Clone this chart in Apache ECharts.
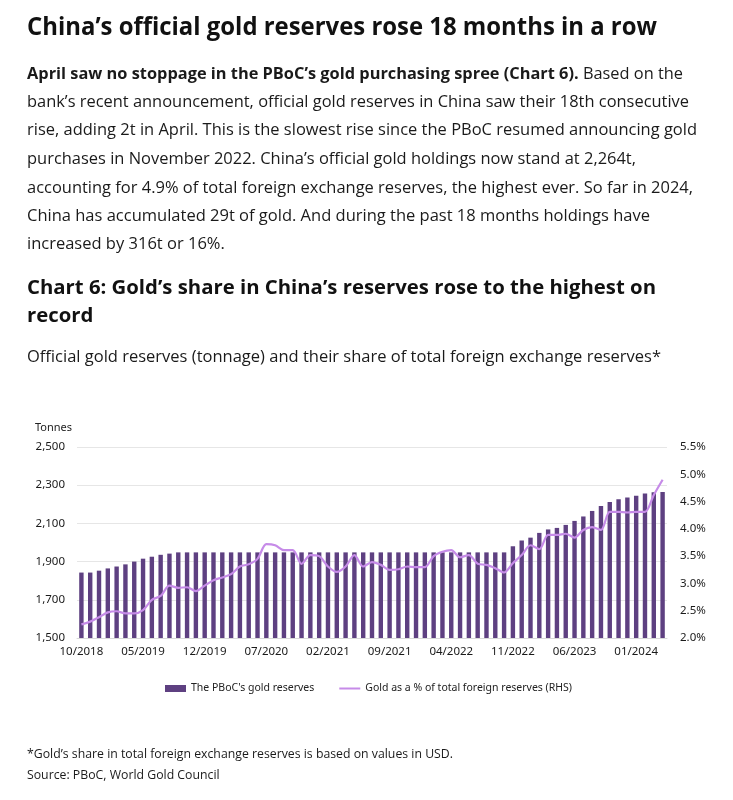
<!DOCTYPE html>
<html>
<head>
<meta charset="utf-8">
<script src="https://cdn.jsdelivr.net/npm/echarts@6/dist/echarts.min.js"></script>
<style>
  html, body { margin:0; padding:0; background:#fff; }
  #page { position:relative; width:733px; height:800px; overflow:hidden; }
  #chart { position:absolute; left:0; top:0; width:733px; height:800px; }
  .ln { position:absolute; left:27px; white-space:nowrap; font-family:"Open Sans", "Noto Sans", sans-serif; color:#1a1a1a; transform-origin:0 50%; line-height:normal; }
  .h1 { font-size:25px; font-weight:700; color:#111; }
  .p { font-size:16.5px; }
  .h2 { font-size:20px; font-weight:700; color:#111; }
  .sub { font-size:16px; }
  .ft { font-size:12.5px; }
</style>
</head>
<body>
<div id="page">
  <div id="chart"></div>
  <div class="ln h1" style="top:8px" data-w="630">China’s official gold reserves rose 18 months in a row</div>
  <div class="ln p" style="top:61px" data-w="656"><b>April saw no stoppage in the PBoC’s gold purchasing spree (Chart 6).</b> Based on the</div>
  <div class="ln p" style="top:89px" data-w="662">bank’s recent announcement, official gold reserves in China saw their 18th consecutive</div>
  <div class="ln p" style="top:117px" data-w="670">rise, adding 2t in April. This is the slowest rise since the PBoC resumed announcing gold</div>
  <div class="ln p" style="top:146px" data-w="609">purchases in November 2022. China’s official gold holdings now stand at 2,264t,</div>
  <div class="ln p" style="top:175px" data-w="666">accounting for 4.9% of total foreign exchange reserves, the highest ever. So far in 2024,</div>
  <div class="ln p" style="top:203px" data-w="623">China has accumulated 29t of gold. And during the past 18 months holdings have</div>
  <div class="ln p" style="top:231px" data-same="1">increased by 316t or 16%.</div>
  <div class="ln h2" style="top:273px" data-w="629">Chart 6: Gold’s share in China’s reserves rose to the highest on</div>
  <div class="ln h2" style="top:301px" data-same="1">record</div>
  <div class="ln sub" style="top:345px" data-w="634">Official gold reserves (tonnage) and their share of total foreign exchange reserves*</div>
  <div class="ln ft" style="top:745px" data-w="426">*Gold’s share in total foreign exchange reserves is based on values in USD.</div>
  <div class="ln ft" style="top:766px" data-same="1">Source: PBoC, World Gold Council</div>
</div>
<script>
// ---------- data ----------
const categories = [
  "10/2018","11/2018","12/2018",
  "01/2019","02/2019","03/2019","04/2019","05/2019","06/2019","07/2019","08/2019","09/2019","10/2019","11/2019","12/2019",
  "01/2020","02/2020","03/2020","04/2020","05/2020","06/2020","07/2020","08/2020","09/2020","10/2020","11/2020","12/2020",
  "01/2021","02/2021","03/2021","04/2021","05/2021","06/2021","07/2021","08/2021","09/2021","10/2021","11/2021","12/2021",
  "01/2022","02/2022","03/2022","04/2022","05/2022","06/2022","07/2022","08/2022","09/2022","10/2022","11/2022","12/2022",
  "01/2023","02/2023","03/2023","04/2023","05/2023","06/2023","07/2023","08/2023","09/2023","10/2023","11/2023","12/2023",
  "01/2024","02/2024","03/2024","04/2024"
];

const goldReserves = [
  1842.6, 1842.6, 1852.5,
  1864.3, 1874.3, 1885.5, 1900.1, 1915.3, 1925.6, 1935.6, 1941.8, 1948.3, 1948.3, 1948.3, 1948.3,
  1948.3, 1948.3, 1948.3, 1948.3, 1948.3, 1948.3, 1948.3, 1948.3, 1948.3, 1948.3, 1948.3, 1948.3,
  1948.3, 1948.3, 1948.3, 1948.3, 1948.3, 1948.3, 1948.3, 1948.3, 1948.3, 1948.3, 1948.3, 1948.3,
  1948.3, 1948.3, 1948.3, 1948.3, 1948.3, 1948.3, 1948.3, 1948.3, 1948.3, 1948.3, 1980.3, 2010.5,
  2025.4, 2050.3, 2068.4, 2076.4, 2092.0, 2113.0, 2136.3, 2165.2, 2191.5, 2212.0, 2226.0, 2235.4,
  2245.3, 2257.1, 2262.5, 2264.3
];

const goldShare = [
  2.25, 2.30, 2.38,
  2.47, 2.49, 2.45, 2.45, 2.51, 2.70, 2.77, 2.96, 2.92, 2.93, 2.86, 2.96,
  3.06, 3.11, 3.17, 3.31, 3.35, 3.45, 3.72, 3.70, 3.61, 3.61, 3.36, 3.52,
  3.50, 3.31, 3.21, 3.31, 3.52, 3.31, 3.39, 3.34, 3.25, 3.26, 3.31, 3.30,
  3.30, 3.50, 3.58, 3.61, 3.48, 3.52, 3.36, 3.34, 3.28, 3.20, 3.37, 3.52,
  3.70, 3.63, 3.89, 3.89, 3.91, 3.84, 3.98, 4.03, 3.98, 4.31, 4.31, 4.30,
  4.31, 4.31, 4.62, 4.90
];

const leftTicks = { min: 1500, max: 2500, step: 200 };
const rightTicks = { min: 2.0, max: 5.5, step: 0.5 };
const seriesNames = ["The PBoC's gold reserves", "Gold as a % of total foreign reserves (RHS)"];
const axisUnit = "Tonnes";

// ---------- text fitting ----------
function fitLines() {
  let last = 1;
  document.querySelectorAll('.ln').forEach(el => {
    el.style.transform = 'none';
    const nat = el.getBoundingClientRect().width;
    let s = last;
    if (el.dataset.w) { s = parseFloat(el.dataset.w) / nat; }
    last = s;
    el.style.transform = 'scaleX(' + s + ')';
  });
}
fitLines();
if (document.fonts && document.fonts.ready) document.fonts.ready.then(fitLines);

// ---------- chart ----------
const FONT = '"Noto Sans", sans-serif';
const BAR_COLOR = '#5e4081';
const LINE_COLOR = '#c68be8';
const chart = echarts.init(document.getElementById('chart'), null, { renderer: 'canvas' });
chart.setOption({
  animation: false,
  textStyle: { fontFamily: FONT },
  grid: { left: 77, right: 66, top: 447, bottom: 162, containLabel: false },
  legend: {
    left: 160, top: 678,
    itemWidth: 21, itemHeight: 7, itemGap: 25,
    textStyle: { fontSize: 10.5, color: '#222', fontFamily: FONT },
    data: [
      { name: seriesNames[0], icon: 'rect' },
      { name: seriesNames[1], icon: 'path://M0,0 L21,0 L21,2 L0,2 Z', itemStyle: { color: LINE_COLOR } }
    ]
  },
  graphic: [{
    type: 'text', left: 35, top: 422,
    style: { text: axisUnit, fontSize: 11, fill: '#222', fontFamily: FONT }
  }],
  xAxis: {
    type: 'category',
    data: categories,
    axisTick: { show: false },
    axisLine: { show: true, lineStyle: { color: '#d9d9d9', width: 1 } },
    axisLabel: { interval: 6, fontSize: 11.5, color: '#1a1a1a', margin: 8, fontFamily: FONT }
  },
  yAxis: [
    {
      type: 'value', min: leftTicks.min, max: leftTicks.max, interval: leftTicks.step,
      axisLine: { show: false }, axisTick: { show: false },
      axisLabel: { fontSize: 11.5, color: '#1a1a1a', margin: 12, fontFamily: FONT,
        formatter: v => v.toLocaleString('en-US') },
      splitLine: { lineStyle: { color: '#e6e6e6', width: 1 } }
    },
    {
      type: 'value', position: 'right', min: rightTicks.min, max: rightTicks.max, interval: rightTicks.step,
      axisLine: { show: false }, axisTick: { show: false },
      axisLabel: { fontSize: 11.5, color: '#1a1a1a', margin: 13, fontFamily: FONT,
        formatter: v => v.toFixed(1) + '%' },
      splitLine: { show: false }
    }
  ],
  series: [
    {
      name: seriesNames[0], type: 'bar', data: goldReserves,
      barWidth: '50%',
      itemStyle: { color: BAR_COLOR }
    },
    {
      name: seriesNames[1], type: 'line', yAxisIndex: 1, data: goldShare,
      smooth: 0.3, symbol: 'none', showSymbol: false,
      lineStyle: { width: 2.2, color: LINE_COLOR },
      itemStyle: { color: LINE_COLOR },
      z: 3
    }
  ]
});
</script>
</body>
</html>
